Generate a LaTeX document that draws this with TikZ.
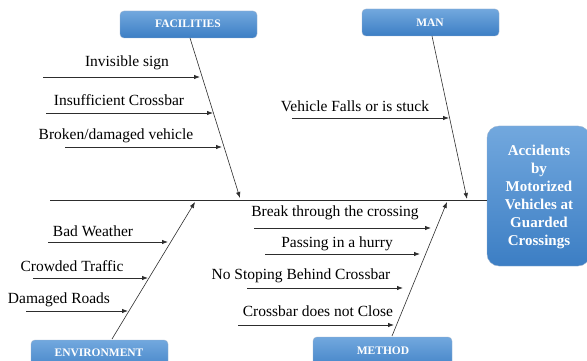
\documentclass[tikz,border=0pt]{standalone}
\usepackage{fontspec}
\setmainfont{Liberation Serif}
\usetikzlibrary{arrows.meta}
\definecolor{boxtop}{RGB}{114,168,222}
\definecolor{boxbot}{RGB}{60,126,196}
\definecolor{boxedge}{RGB}{150,175,205}
\definecolor{linegray}{RGB}{45,45,45}
\begin{document}
\begin{tikzpicture}[x=1pt,y=-1pt,
  catbox/.style={rounded corners=4pt,top color=boxtop,bottom color=boxbot,draw=boxedge,line width=0.4pt},
  cattext/.style={text=white,font=\fontsize{11.5}{13}\selectfont\bfseries,inner sep=0pt},
  bone/.style={draw=linegray,line width=0.6pt,-{Latex[length=6pt,width=4.5pt]}},
  cause/.style={draw=linegray,line width=0.8pt,-{Latex[length=6pt,width=4.5pt]}},
  lbl/.style={font=\fontsize{15.5}{18}\selectfont,inner sep=0pt,text=black}]
\useasboundingbox (0,0) rectangle (587,361);

% effect box
\path[rounded corners=12pt,top color=boxtop,bottom color=boxbot,draw=boxedge,line width=0.4pt]
  (487,126) rectangle (590,266);
\node[text=white,align=center,inner sep=0pt,font=\fontsize{15}{18}\selectfont\bfseries] (effect) at (539,197)
  {Accidents\\by\\Motorized\\Vehicles at\\Guarded\\Crossings};
\coordinate (head) at (487,200);

% spine
\coordinate (tail) at (50,200);
\draw[draw=linegray,line width=0.8pt] (tail) -- (head);

% category boxes
\path[catbox] (120,11) rectangle (257,38);
\node[cattext] (facilities) at (188,24) {FACILITIES};
\path[catbox] (362,9) rectangle (499,36);
\node[cattext] (man) at (430,23) {MAN};
\path[catbox] (31,340) rectangle (168,375);
\node[cattext] (environment) at (99,353) {ENVIRONMENT};
\path[catbox] (313,337) rectangle (452,372);
\node[cattext] (method) at (383,351) {METHOD};

% bones
\coordinate (fA) at (190,38);  \coordinate (fB) at (240,198);
\coordinate (mA) at (432,36);  \coordinate (mB) at (467,199);
\coordinate (eA) at (112,339); \coordinate (eB) at (195,202);
\coordinate (tA) at (392,336); \coordinate (tB) at (447,202);
\draw[bone] (fA) -- (fB);
\draw[bone] (mA) -- (mB);
\draw[bone] (eA) -- (eB);
\draw[bone] (tA) -- (tB);

% facilities causes
\coordinate (f1s) at (43,77);  \coordinate (f1e) at (200,77);
\coordinate (f2s) at (46,113); \coordinate (f2e) at (213,113);
\coordinate (f3s) at (65,147); \coordinate (f3e) at (222,147);
\draw[cause] (f1s) -- (f1e);
\draw[cause] (f2s) -- (f2e);
\draw[cause] (f3s) -- (f3e);
\node[lbl] (f1) at (127,63) {Invisible sign};
\node[lbl] (f2) at (119,100) {Insufficient Crossbar};
\node[lbl] (f3) at (116,136) {Broken/damaged vehicle};

% man causes
\coordinate (m1s) at (292,118); \coordinate (m1e) at (449,118);
\draw[cause] (m1s) -- (m1e);
\node[lbl] (m1) at (355,106) {Vehicle Falls or is stuck};

% environment causes
\coordinate (e1s) at (48,242);  \coordinate (e1e) at (168,242);
\coordinate (e2s) at (33,278);  \coordinate (e2e) at (148,278);
\coordinate (e3s) at (26,311);  \coordinate (e3e) at (128,311);
\draw[cause] (e1s) -- (e1e);
\draw[cause] (e2s) -- (e2e);
\draw[cause] (e3s) -- (e3e);
\node[lbl] (e1) at (93,231) {Bad Weather};
\node[lbl] (e2) at (72,266) {Crowded Traffic};
\node[lbl] (e3) at (59,300) {Damaged Roads};

% method causes
\coordinate (t1s) at (254,228); \coordinate (t1e) at (431,228);
\coordinate (t2s) at (265,254); \coordinate (t2e) at (420,254);
\coordinate (t3s) at (247,288); \coordinate (t3e) at (403,288);
\coordinate (t4s) at (238,325); \coordinate (t4e) at (394,325);
\draw[cause] (t1s) -- (t1e);
\draw[cause] (t2s) -- (t2e);
\draw[cause] (t3s) -- (t3e);
\draw[cause] (t4s) -- (t4e);
\node[lbl] (t1) at (335,213) {Break through the crossing};
\node[lbl] (t2) at (337,244) {Passing in a hurry};
\node[lbl] (t3) at (301,276) {No Stoping Behind Crossbar};
\node[lbl] (t4) at (318,311) {Crossbar does not Close};
\end{tikzpicture}
\end{document}
